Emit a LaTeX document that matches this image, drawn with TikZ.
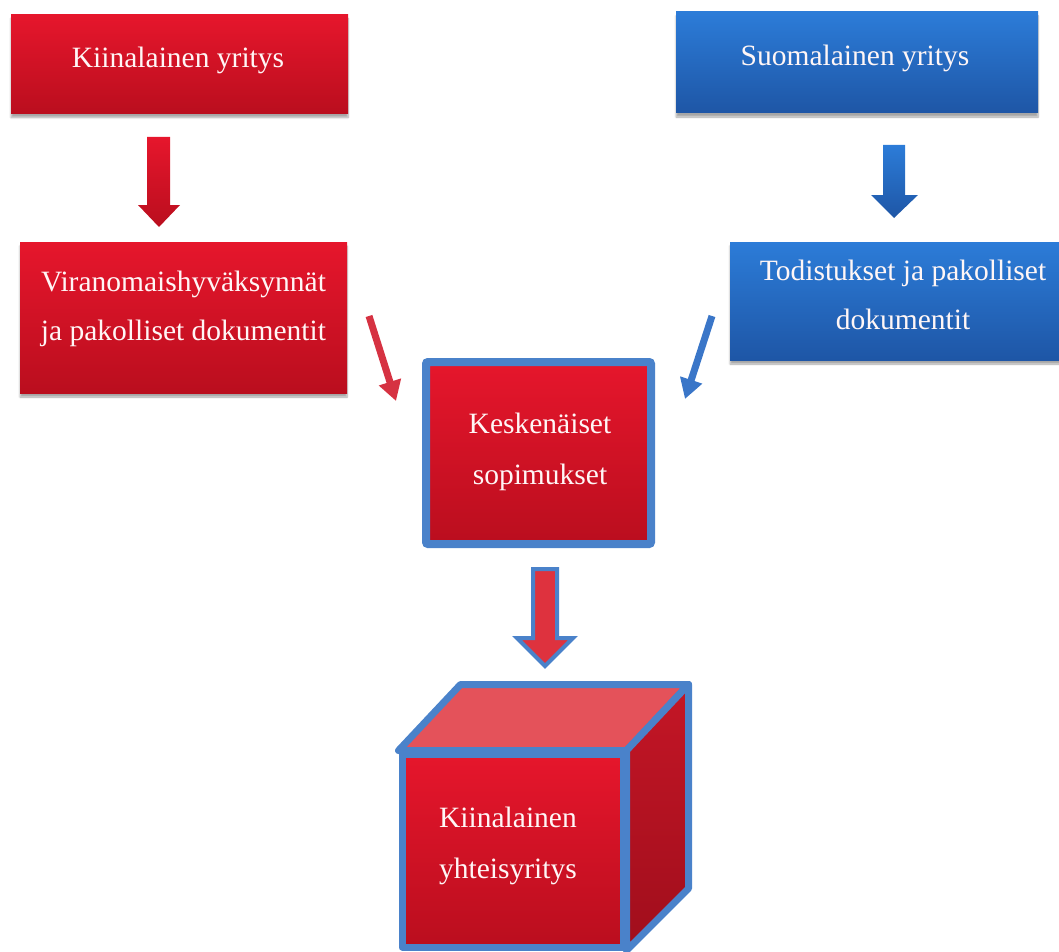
\documentclass[tikz,border=0pt]{standalone}
\usepackage{fontspec}
\setmainfont{Liberation Serif}
\usetikzlibrary{arrows.meta,shadows.blur,calc}
\definecolor{rtop}{RGB}{230,22,44}
\definecolor{rbot}{RGB}{186,14,30}
\definecolor{btop}{RGB}{44,124,216}
\definecolor{bbot}{RGB}{30,86,166}
\definecolor{edgeblue}{RGB}{74,130,202}
\definecolor{toplight}{RGB}{228,82,90}
\definecolor{sidetop}{RGB}{196,22,38}
\definecolor{sidebot}{RGB}{160,14,28}
\definecolor{arrowred}{RGB}{222,50,62}
\definecolor{diagred}{RGB}{214,50,66}
\definecolor{diagblue}{RGB}{58,118,200}
\definecolor{textwhite}{RGB}{255,246,246}
\tikzset{
  boxtext/.style={text=textwhite, align=center, font=\fontsize{29.5}{49}\selectfont, inner sep=0pt},
  widetext/.style={boxtext, font=\fontsize{29.5}{51}\selectfont},
  redbox/.style={boxtext, rectangle, top color=rtop, bottom color=rbot,
    blur shadow={shadow xshift=0pt, shadow yshift=-4pt, shadow blur steps=6, shadow opacity=35}},
  bluebox/.style={boxtext, rectangle, top color=btop, bottom color=bbot,
    blur shadow={shadow xshift=0pt, shadow yshift=-4pt, shadow blur steps=6, shadow opacity=35}},
  redblock/.style={top color=rtop, bottom color=rbot, draw=none},
  blueblock/.style={top color=btop, bottom color=bbot, draw=none},
  diagarrow/.style={line width=7pt, -{Triangle[width=22pt,length=20pt]}},
  framed/.style={draw=edgeblue, line width=7pt, line join=round},
}
\begin{document}
\begin{tikzpicture}[x=1pt, y=-1pt]
\useasboundingbox (0,0) rectangle (1059,952);

% top boxes
\node[redbox, minimum width=337pt, minimum height=99pt] (kiina) at (179.5,64) {};
\node[boxtext] (kiinatext) at (178,60) {Kiinalainen yritys};
\node[bluebox, minimum width=362pt, minimum height=101pt] (suomi) at (857,62.5) {};
\node[boxtext] (suomitext) at (855,58) {Suomalainen yritys};

% second row
\node[redbox, minimum width=327pt, minimum height=151pt] (viran) at (183.5,317.5) {};
\node[boxtext] (virantext) at (183.5,309) {Viranomaishyväksynnät\\ja pakolliset dokumentit};
\node[bluebox, minimum width=345pt, minimum height=118pt] (todis) at (902.5,301) {};
\node[boxtext] (todistext) at (903,295) {Todistukset ja pakolliset\\dokumentit};

% centre box
\node[boxtext, rectangle, rounded corners=2pt, top color=rtop, bottom color=rbot,
      draw=edgeblue, line width=8pt, minimum width=225pt, minimum height=182pt] (kesk) at (538.5,453) {};
\node[widetext] (kesktext) at (540,452) {Keskenäiset\\sopimukset};

% cube
\node[framed, rectangle, top color=rtop, bottom color=rbot, minimum width=221pt, minimum height=193pt, inner sep=0pt] (cube) at (512.5,850.5) {};
\coordinate (cbnw) at ($(cube.north west)+(62,-66)$);
\coordinate (cbne) at ($(cube.north east)+(62,-66)$);
\coordinate (cbse) at ($(cube.south east)+(62,-62)$);
\draw[framed, fill=toplight] (cube.north west) -- (cbnw) -- (cbne) -- (cube.north east) -- cycle;
\draw[framed, top color=sidetop, bottom color=sidebot] (cube.north east) -- (cbne) -- (cbse) -- (cube.south east) -- cycle;
\node[widetext] (cubetext) at (508,846) {Kiinalainen\\yhteisyritys};

% vertical block arrows
\coordinate (ra1) at (147,137);
\coordinate (ra2) at (170,137);
\coordinate (ra3) at (170,205);
\coordinate (ra4) at (180,205);
\coordinate (ratip) at (159,227);
\coordinate (ra6) at (138,205);
\coordinate (ra7) at (147,205);
\path[redblock] (ra1) -- (ra2) -- (ra3) -- (ra4) -- (ratip) -- (ra6) -- (ra7) -- cycle;

\coordinate (ba1) at (883,145);
\coordinate (ba2) at (905,145);
\coordinate (ba3) at (905,195);
\coordinate (ba4) at (918,195);
\coordinate (batip) at (894,218);
\coordinate (ba6) at (871,195);
\coordinate (ba7) at (883,195);
\path[blueblock] (ba1) -- (ba2) -- (ba3) -- (ba4) -- (batip) -- (ba6) -- (ba7) -- cycle;

% diagonal arrows
\coordinate (rdstart) at (369,316);
\coordinate (rdend) at (396,401);
\draw[diagarrow, diagred] (rdstart) -- (rdend);
\coordinate (bdstart) at (712,316);
\coordinate (bdend) at (685,399);
\draw[diagarrow, diagblue] (bdstart) -- (bdend);

% big arrow
\coordinate (g1) at (533,569);
\coordinate (g2) at (557,569);
\coordinate (g3) at (557,638);
\coordinate (g4) at (573,638);
\coordinate (gtip) at (545,666);
\coordinate (g6) at (517,638);
\coordinate (g7) at (533,638);
\draw[fill=arrowred, draw=edgeblue, line width=4pt, line join=miter] (g1) -- (g2) -- (g3) -- (g4) -- (gtip) -- (g6) -- (g7) -- cycle;
\end{tikzpicture}
\end{document}
